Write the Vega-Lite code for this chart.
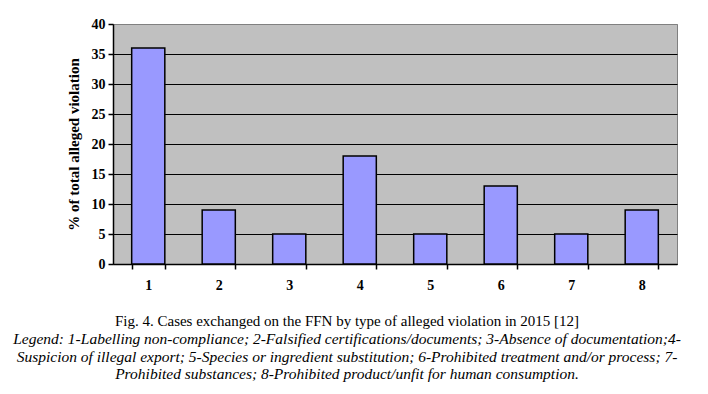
{
  "$schema": "https://vega.github.io/schema/vega-lite/v6.json",
  "width": 564,
  "height": 240,
  "autosize": {"type": "none"},
  "padding": {"left": 113, "top": 24, "right": 31, "bottom": 130},
  "background": "white",
  "data": {"values": [
    {"type": "1", "pct": 36},
    {"type": "2", "pct": 9},
    {"type": "3", "pct": 5},
    {"type": "4", "pct": 18},
    {"type": "5", "pct": 5},
    {"type": "6", "pct": 13},
    {"type": "7", "pct": 5},
    {"type": "8", "pct": 9}
  ]},
  "title": {
    "text": "Fig. 4. Cases exchanged on the FFN by type of alleged violation in 2015 [12]",
    "subtitle": [
      "Legend: 1-Labelling non-compliance; 2-Falsified certifications/documents;  3-Absence of documentation;4-",
      "Suspicion  of illegal export; 5-Species or ingredient substitution;  6-Prohibited treatment and/or  process; 7-",
      "Prohibited substances; 8-Prohibited product/unfit for human consumption."
    ],
    "orient": "bottom",
    "anchor": "middle",
    "dx": -48,
    "offset": 22,
    "font": "Liberation Serif",
    "fontSize": 15,
    "fontWeight": "normal",
    "color": "black",
    "subtitleFont": "Liberation Serif",
    "subtitleFontSize": 15.5,
    "subtitleFontStyle": "italic",
    "subtitleColor": "black",
    "subtitleLineHeight": 17.5,
    "subtitlePadding": 3
  },
  "config": {
    "view": {"fill": "#C0C0C0", "stroke": "#808080", "strokeWidth": 1},
    "axis": {
      "labelFont": "Liberation Serif",
      "titleFont": "Liberation Serif",
      "labelColor": "black",
      "titleColor": "black",
      "domainColor": "black",
      "tickColor": "black"
    }
  },
  "mark": {"type": "bar", "fill": "#9999FF", "stroke": "black", "strokeWidth": 1.5},
  "encoding": {
    "x": {
      "field": "type",
      "type": "ordinal",
      "scale": {"paddingInner": 0.53, "paddingOuter": 0.265},
      "axis": {
        "title": null,
        "labelAngle": 0,
        "labelFontSize": 14,
        "labelFontWeight": "bold",
        "labelPadding": 9,
        "tickBand": "extent",
        "tickSize": 5,
        "domainWidth": 1.5,
        "tickWidth": 1.5
      }
    },
    "y": {
      "field": "pct",
      "type": "quantitative",
      "scale": {"domain": [0, 40]},
      "axis": {
        "title": "% of total alleged violation",
        "titleFontSize": 15,
        "titleFontWeight": "bold",
        "titlePadding": 10,
        "values": [0, 5, 10, 15, 20, 25, 30, 35, 40],
        "labelFontSize": 14,
        "labelFontWeight": "bold",
        "labelPadding": 3,
        "tickSize": 5,
        "domainWidth": 1.5,
        "tickWidth": 1.5,
        "grid": true,
        "gridColor": {"condition": {"test": "datum.value == 40", "value": "#808080"}, "value": "black"},
        "gridOpacity": 1,
        "gridWidth": 1
      }
    }
  }
}
